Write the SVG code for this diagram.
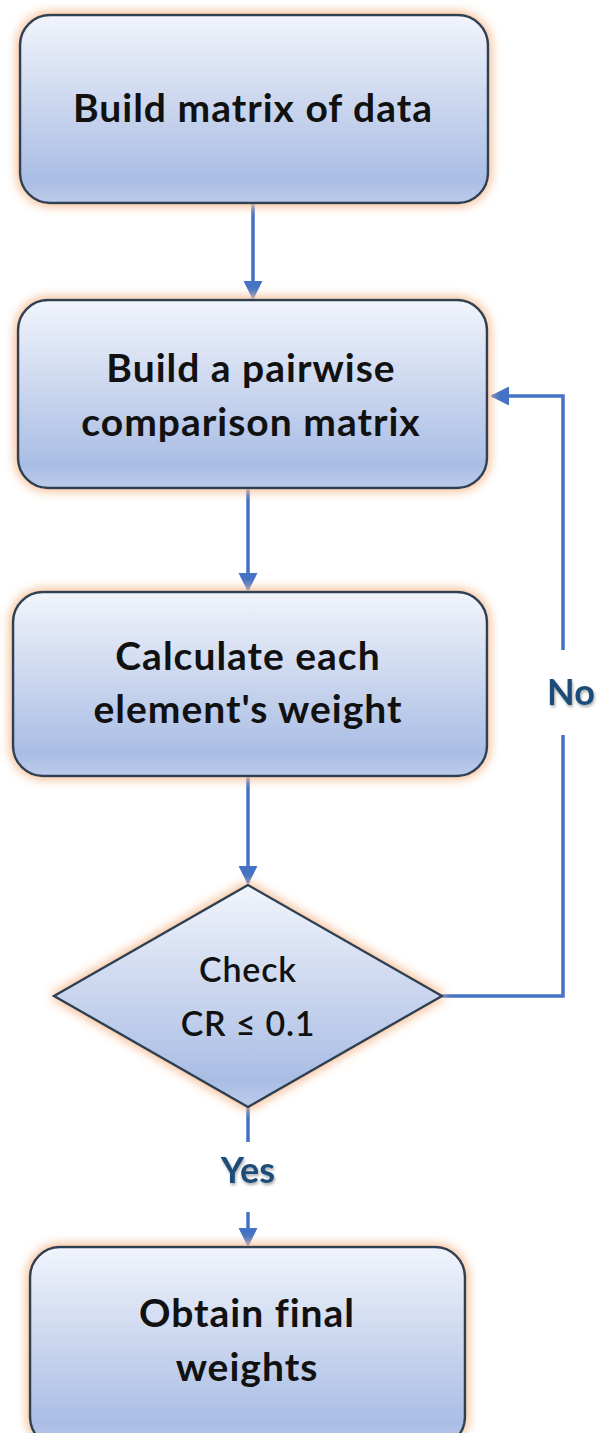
<svg xmlns="http://www.w3.org/2000/svg" width="600" height="1433" viewBox="0 0 600 1433">
<defs>
<linearGradient id="fill" x1="0" y1="0" x2="0" y2="1">
<stop offset="0" stop-color="#F1F4FB"/>
<stop offset="0.5" stop-color="#C9D5EE"/>
<stop offset="0.88" stop-color="#A9BDE4"/>
<stop offset="1" stop-color="#BCCBEA"/>
</linearGradient>
<filter id="glow" x="-10%" y="-10%" width="120%" height="120%">
<feGaussianBlur in="SourceAlpha" stdDeviation="6" result="b"/>
<feFlood flood-color="#F6C6A2" result="c"/>
<feComposite in="c" in2="b" operator="in" result="g"/>
<feMerge><feMergeNode in="g"/><feMergeNode in="g"/><feMergeNode in="SourceGraphic"/></feMerge>
</filter>
<filter id="tshadow" x="-20%" y="-20%" width="140%" height="140%">
<feGaussianBlur in="SourceAlpha" stdDeviation="1.5" result="b"/>
<feOffset dx="1" dy="2" result="o"/>
<feComponentTransfer in="o" result="s"><feFuncA type="linear" slope="0.35"/></feComponentTransfer>
<feMerge><feMergeNode in="s"/><feMergeNode in="SourceGraphic"/></feMerge>
</filter>
<marker id="arr" viewBox="0 0 10 10" refX="9" refY="5" markerWidth="5.5" markerHeight="5.5" orient="auto" markerUnits="strokeWidth">
<path d="M0,0 L10,5 L0,10 z" fill="#4472C4"/>
</marker>
</defs>
<style>
.box{fill:url(#fill);stroke:#2E3F52;stroke-width:2.5;filter:url(#glow)}
.t{font-family:Lato,"Open Sans","Liberation Sans",sans-serif;font-weight:bold;font-size:39px;letter-spacing:1px;fill:#111;text-anchor:middle}
.d{font-family:Lato,"Open Sans","Liberation Sans",sans-serif;font-weight:600;font-size:34px;letter-spacing:0.8px;fill:#111;text-anchor:middle}
.lbl{font-family:Lato,"Open Sans","Liberation Sans",sans-serif;font-weight:bold;font-size:36px;fill:#1F4E79;text-anchor:middle;filter:url(#tshadow)}
.c{fill:none;stroke:#4472C4;stroke-width:3.5}
</style>
<g id="connectors">
<line class="c" x1="253" y1="203" x2="253" y2="298" marker-end="url(#arr)"/>
<line class="c" x1="248" y1="488" x2="248" y2="590" marker-end="url(#arr)"/>
<line class="c" x1="248" y1="776" x2="248" y2="883" marker-end="url(#arr)"/>
<line class="c" x1="248" y1="1107" x2="248" y2="1142"/>
<line class="c" x1="248" y1="1212" x2="248" y2="1245" marker-end="url(#arr)"/>
<polyline class="c" points="442,996 563,996 563,735"/>
<polyline class="c" points="563,650 563,396 492,396" marker-end="url(#arr)"/>
<text class="lbl" x="571" y="705">No</text>
<text class="lbl" x="248" y="1183">Yes</text>
</g>
<g id="n1">
<rect class="box" x="20" y="15" width="468" height="188" rx="30"/>
<text class="t" x="253" y="122">Build matrix of data</text>
</g>
<g id="n2">
<rect class="box" x="18" y="300" width="469" height="188" rx="30"/>
<text class="t" x="251" y="382">Build a pairwise</text>
<text class="t" x="251" y="436">comparison matrix</text>
</g>
<g id="n3">
<rect class="box" x="13" y="592" width="474" height="184" rx="30"/>
<text class="t" x="248" y="670">Calculate each</text>
<text class="t" x="248" y="723">element's weight</text>
</g>
<g id="n4">
<polygon class="box" points="248,885 442,996 248,1107 54,996"/>
<text class="d" x="248" y="982">Check</text>
<text class="d" x="248" y="1036">CR ≤ 0.1</text>
</g>
<g id="n5">
<rect class="box" x="30" y="1247" width="435" height="200" rx="30"/>
<text class="t" x="247" y="1327">Obtain final</text>
<text class="t" x="247" y="1381">weights</text>
</g>
</svg>
